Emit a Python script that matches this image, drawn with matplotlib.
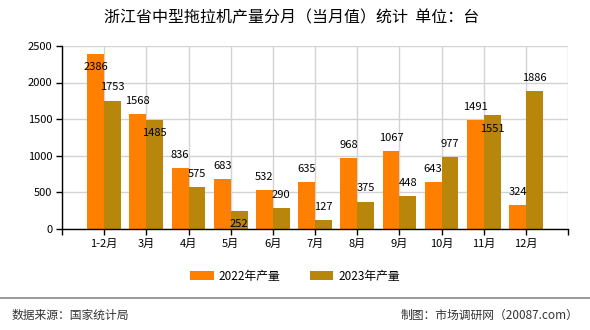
import matplotlib
matplotlib.use("Agg")
import matplotlib.pyplot as plt
import numpy as np

plt.rcParams['font.family'] = ['Noto Sans CJK SC', 'DejaVu Sans']

categories = ["1-2月", "3月", "4月", "5月", "6月", "7月", "8月", "9月", "10月", "11月", "12月"]
values_2022 = [2386, 1568, 836, 683, 532, 635, 968, 1067, 643, 1491, 324]
values_2023 = [1753, 1485, 575, 252, 290, 127, 375, 448, 977, 1551, 1886]
series_names = ["2022年产量", "2023年产量"]
yticks = [0, 500, 1000, 1500, 2000, 2500]

# label placement style: +1 above bar top, -1 below bar top
pos_2022 = [-1, 1, 1, 1, 1, 1, 1, 1, 1, 1, 1]
pos_2023 = [1, -1, 1, -1, 1, 1, 1, 1, 1, -1, 1]

c1 = "#FF8000"
c2 = "#B8860B"

fig = plt.figure(figsize=(5.9, 3.3), dpi=100)
ax = fig.add_axes([0.105, 0.306, 0.858, 0.555])

x = np.arange(len(categories))
w = 0.4
b1 = ax.bar(x - w / 2, values_2022, width=w, color=c1, zorder=3)
b2 = ax.bar(x + w / 2, values_2023, width=w, color=c2, zorder=3)

for xi, v, p in zip(x - w / 2, values_2022, pos_2022):
    ax.annotate(str(v), (xi, v), xytext=(0, 9.5 * p), textcoords="offset points",
                ha="center", va="center", fontsize=8, zorder=5)
for xi, v, p in zip(x + w / 2, values_2023, pos_2023):
    ax.annotate(str(v), (xi, v), xytext=(0, 9.5 * p), textcoords="offset points",
                ha="center", va="center", fontsize=8, zorder=5)

ax.set_xlim(-1, len(categories))
ax.set_ylim(0, 2500)
ax.set_yticks(yticks)
ax.set_yticklabels([str(t) for t in yticks], fontsize=8)
xt = list(range(-1, len(categories) + 1))
ax.set_xticks(xt)
ax.set_xticklabels([""] + categories + [""], fontsize=8)
ax.tick_params(axis="both", length=4, width=1, color="black", pad=3)
ax.grid(True, color="#d3d3d3", linewidth=1, zorder=0)
for s in ["top", "right"]:
    ax.spines[s].set_visible(False)
for s in ["left", "bottom"]:
    ax.spines[s].set_color("black")
    ax.spines[s].set_linewidth(1)
    ax.spines[s].set_zorder(4)

fig.text(0.495, 0.945, "浙江省中型拖拉机产量分月（当月值）统计  单位：台",
         ha="center", va="center", fontsize=11.5)

leg = fig.legend([b1, b2], series_names, loc="center", bbox_to_anchor=(0.5, 0.163),
                 ncol=2, frameon=False, fontsize=8.5, handlelength=2.0, handleheight=0.8,
                 columnspacing=2.5, handletextpad=0.4)

fig.add_artist(plt.Line2D([0, 1], [0.097, 0.097], color="#888888", linewidth=1.2,
                          transform=fig.transFigure))
fig.text(0.02, 0.045, "数据来源：国家统计局", ha="left", va="center", fontsize=8.5, color="#333333")
fig.text(0.98, 0.045, "制图：市场调研网（20087.com）", ha="right", va="center", fontsize=8.5, color="#333333")

fig.savefig("out.png", dpi=100)
